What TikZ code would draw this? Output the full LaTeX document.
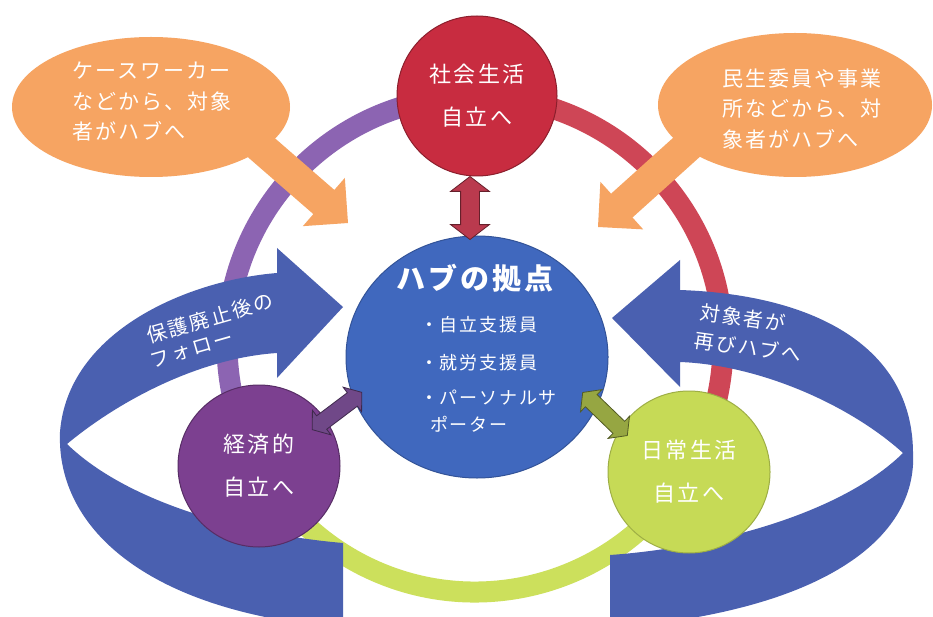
\documentclass[tikz,border=0pt]{standalone}
\usepackage{fontspec}
\newfontfamily\jp[LetterSpace=10]{Noto Sans CJK JP}
\usetikzlibrary{shapes.arrows,shapes.geometric}
\definecolor{orangec}{RGB}{246,164,98}
\definecolor{ribbonc}{RGB}{74,96,176}
\definecolor{hubc}{RGB}{64,104,190}
\definecolor{redc}{RGB}{200,44,64}
\definecolor{redring}{RGB}{206,70,86}
\definecolor{purc}{RGB}{124,64,144}
\definecolor{purring}{RGB}{140,100,178}
\definecolor{grnc}{RGB}{198,218,86}
\definecolor{grnring}{RGB}{204,224,92}
\definecolor{redarr}{RGB}{186,58,78}
\definecolor{purarr}{RGB}{112,72,136}
\definecolor{grnarr}{RGB}{150,166,66}
\begin{document}
\begin{tikzpicture}[x=1pt,y=-1pt,
  ringline/.style={line width=21pt},
  ball/.style={circle, inner sep=0pt, minimum size=#1, text=white, align=center,
    font=\jp\fontsize{22}{43}\selectfont},
  callout/.style={ellipse, fill=orangec, inner sep=0pt},
  calltext/.style={text=white, align=left, anchor=west, inner sep=0pt,
    font=\jp\fontsize{21}{30.5}\selectfont},
  hubline/.style={text=white, anchor=west, inner sep=0pt,
    font=\jp\fontsize{18}{20}\selectfont},
  ribbontext/.style={text=white, align=left, inner sep=0pt,
    font=\jp\fontsize{20}{31}\selectfont},
  dblarrow/.style={double arrow, inner xsep=0pt, double arrow tip angle=105, line width=0.8pt}
]
\useasboundingbox (0,0) rectangle (933,617);
\clip (0,0) rectangle (933,617);
\fill[white] (0,0) rectangle (933,617);

% ring
\coordinate (rc) at (475,344);
\draw[ringline, purring] (rc) ++(270:248) arc[start angle=270, end angle=150, radius=248];
\draw[ringline, redring] (rc) ++(270:248) arc[start angle=270, end angle=392, radius=248];
\draw[ringline, grnring] (rc) ++(30:248) arc[start angle=30, end angle=152, radius=248];

% ribbons
\fill[ribbonc] (343,307) -- (277,248) -- (277,273)
  .. controls (190,280) and (68,330) .. (60,432)
  .. controls (56,530) and (150,612) .. (343,628)
  -- (343,543)
  .. controls (250,535) and (130,505) .. (67,444)
  .. controls (120,400) and (200,358) .. (277,353)
  -- (277,378) -- cycle;
\fill[ribbonc] (612,318) -- (680,260) -- (680,290)
  .. controls (820,295) and (912,350) .. (913,452)
  .. controls (918,540) and (820,612) .. (610,628)
  -- (610,555)
  .. controls (710,548) and (840,515) .. (903,453)
  .. controls (850,405) and (760,365) .. (680,362)
  -- (680,387) -- cycle;

% callouts
\node[callout, minimum width=278pt, minimum height=140pt] (lcall) at (151,107) {};
\node[callout, minimum width=274pt, minimum height=144pt] (rcall) at (795,105) {};
\begin{scope}[shift={(348,223)}, rotate=-41]
  \fill[orangec] (0,0) -- (-32,32) -- (-32,16) -- (-155,16) -- (-155,-16) -- (-32,-16) -- (-32,-32) -- cycle;
\end{scope}
\begin{scope}[shift={(598,227)}, rotate=-138]
  \fill[orangec] (0,0) -- (-32,32) -- (-32,16) -- (-150,16) -- (-150,-16) -- (-32,-16) -- (-32,-32) -- cycle;
\end{scope}
\node[calltext] (ltext) at (72,102) {ケースワーカー\\などから、対象\\者がハブへ};
\node[calltext] (rtext) at (722,109) {民生委員や事業\\所などから、対\\象者がハブへ};

% circles
\node[ball=160pt, fill=redc, draw=redc!70!black, line width=1pt] (soc) at (477,96) {社会生活\\自立へ};
\node[ball=162pt, fill=purc, draw=purc!70!black, line width=1pt] (eco) at (259,466) {経済的\\自立へ};
\node[ball=162pt, fill=grnc, draw=grnc!80!black, line width=1pt] (daily) at (689,472) {日常生活\\自立へ};
\node[ellipse, inner sep=0pt, minimum width=262pt, minimum height=242pt, fill=hubc, draw=hubc!80!black, line width=1pt] (hub) at (477,357) {};

% hub text
\node[text=white, inner sep=0pt, font=\jp\bfseries\fontsize{29}{30}\selectfont] (hubtitle) at (475,278) {ハブの拠点};
\node[hubline] (h1) at (420,325) {・自立支援員};
\node[hubline] (h2) at (420,363) {・就労支援員};
\node[hubline] (h3) at (420,398) {・パーソナルサ};
\node[hubline] (h4) at (430,424) {ポーター};

% ribbon texts
\node[ribbontext, rotate=16] (lrt1) at (210,318) {保護廃止後の};
\node[ribbontext, rotate=16] (lrt2) at (192,350) {フォロー};
\node[ribbontext, rotate=-8] (rrt1) at (743,318) {対象者が};
\node[ribbontext, rotate=-8] (rrt2) at (748,347) {再びハブへ};

% double arrows
\node[dblarrow, fill=redarr, draw=redarr!55!black, inner ysep=9pt, minimum height=63pt,
  double arrow head extend=10pt, rotate=90] (a1) at (470,208) {};
\node[dblarrow, fill=purarr, draw=purarr!55!black, inner ysep=8pt, minimum height=62pt,
  double arrow head extend=7pt, rotate=37] (a2) at (337,411) {};
\node[dblarrow, fill=grnarr, draw=grnarr!55!black, inner ysep=8pt, minimum height=62pt,
  double arrow head extend=7pt, rotate=-44] (a3) at (605,414) {};
\end{tikzpicture}
\end{document}
